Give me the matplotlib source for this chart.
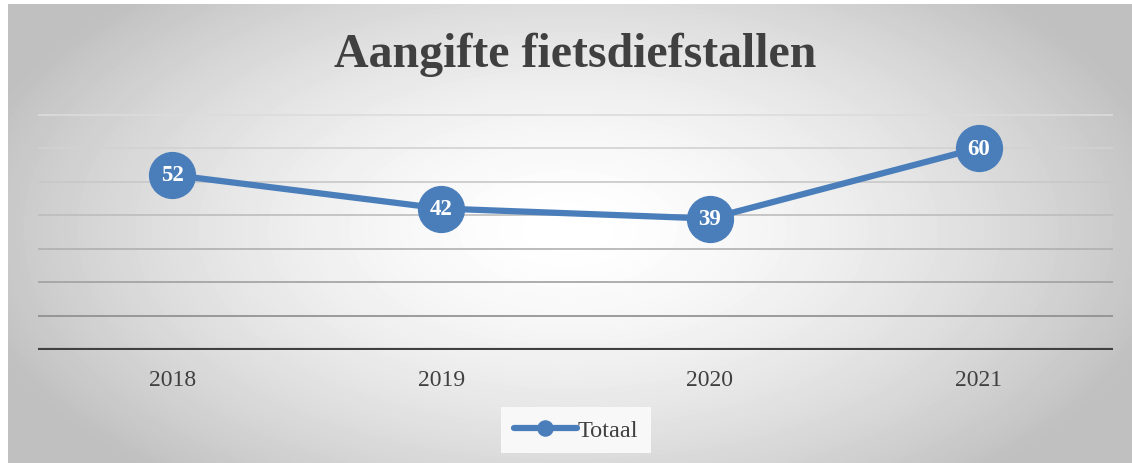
import numpy as np
import matplotlib.pyplot as plt

# data
jaren = ["2018", "2019", "2020", "2021"]
totaal = [52, 42, 39, 60]

W, H = 1132, 464
fig = plt.figure(figsize=(W / 100, H / 100), dpi=100)
fig.patch.set_facecolor("white")

# achtergrond met radiale verloop
bg = fig.add_axes([8 / W, 0, 1 - 8 / W, 1 - 5 / H])
yy, xx = np.mgrid[0:459, 0:1124]
cx, cy = 560, 225
r = np.sqrt(((xx - cx) / 620.0) ** 2 + ((yy - cy) / 330.0) ** 2)
r = np.clip(r, 0, 1)
grey = 1.0 - 0.25 * r ** 1.6
bg.imshow(grey, cmap="gray", vmin=0, vmax=1, aspect="auto", interpolation="bilinear")
bg.set_axis_off()

# plotgebied
x0, x1 = 38, 1113
ytop, ybot = 115.5, 350.5
ax = fig.add_axes([x0 / W, 1 - ybot / H, (x1 - x0) / W, (ybot - 80) / H])
ax.set_facecolor("none")
ax.set_xlim(-0.5, 3.5)
ax.set_ylim(0, 70 * (ybot - 80) / (ybot - ytop))

grid_kleuren = ["#404040", "#8c8c8c", "#a0a0a0", "#b0b0b0", "#bdbdbd", "#c8c8c8", "#d2d2d2", "#dcdcdc"]
for i, v in enumerate(range(0, 80, 10)):
    if v == 0:
        ax.axhline(v, color=grid_kleuren[i], lw=3, zorder=2)
    else:
        ax.axhline(v, color=grid_kleuren[i], lw=1.2, zorder=1)

xs = np.arange(len(jaren))
ax.plot(xs, totaal, color="#4a7ebb", lw=4.5, marker="o", markersize=33,
        solid_capstyle="round", zorder=3, label="Totaal")
for x, v in zip(xs, totaal):
    ax.text(x, v, str(v), color="white", ha="center", va="center",
            fontsize=16.5, fontweight="bold", family="Liberation Serif", zorder=4)

ax.set_xticks(xs)
ax.set_xticklabels(jaren, family="Liberation Serif", fontsize=17, color="#404040")
ax.tick_params(axis="x", length=0, pad=14)
ax.set_yticks([])
for s in ax.spines.values():
    s.set_visible(False)

fig.text(575 / W, 1 - 55 / H, "Aangifte fietsdiefstallen", ha="center", va="center",
         fontsize=34.5, fontweight="bold", family="Liberation Serif", color="#404040")

leg = ax.legend(loc="center", bbox_to_anchor=(576 / W, 1 - 431 / H), bbox_transform=fig.transFigure,
                frameon=True, fancybox=False, markerscale=0.33, handlelength=2.6,
                prop={"family": "Liberation Serif", "size": 17.5}, handletextpad=0.05,
                borderpad=0.5)
leg.get_frame().set_facecolor("#f8f8f8")
leg.get_frame().set_edgecolor("none")
leg.get_frame().set_alpha(1)
for t in leg.get_texts():
    t.set_color("#404040")

fig.savefig("out.png", dpi=100)
